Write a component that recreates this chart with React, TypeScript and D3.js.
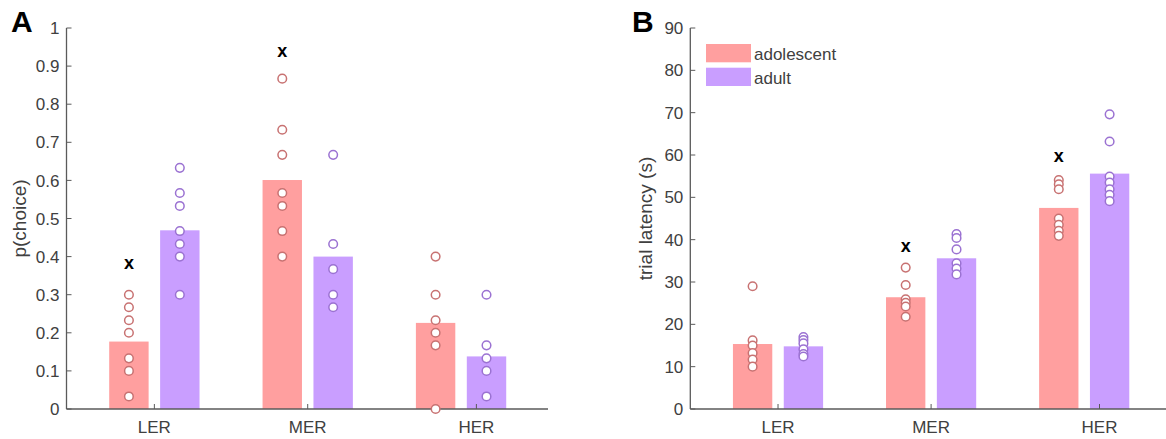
import React from "react";
import * as d3 from "d3";

const categories = ["LER", "MER", "HER"];
const groups = ["adolescent", "adult"];
const tickPositions = [1, 2, 3.1];

// Panel A: p(choice)
const choiceMeanAdol = [0.177, 0.601, 0.226];
const choiceMeanAdult = [0.469, 0.4, 0.138];
const choiceDotsAdol = [
  [0.3, 0.267, 0.233, 0.2, 0.133, 0.1, 0.033],
  [0.867, 0.733, 0.667, 0.567, 0.533, 0.467, 0.4],
  [0.4, 0.3, 0.233, 0.2, 0.167, 0.0],
];
const choiceDotsAdult = [
  [0.633, 0.567, 0.533, 0.467, 0.433, 0.4, 0.3],
  [0.667, 0.433, 0.367, 0.3, 0.267],
  [0.3, 0.167, 0.133, 0.1, 0.033],
];
const choiceMarkY = [0.383, 0.938, null];
const choiceTicks = [0, 0.1, 0.2, 0.3, 0.4, 0.5, 0.6, 0.7, 0.8, 0.9, 1];

// Panel B: trial latency (s)
const latMeanAdol = [15.35, 26.4, 47.5];
const latMeanAdult = [14.8, 35.6, 55.6];
const latDotsAdol = [
  [29.0, 16.2, 15.0, 13.2, 11.7, 10.0],
  [33.4, 29.3, 25.9, 25.1, 24.2, 21.8],
  [54.1, 53.1, 51.9, 45.0, 43.5, 42.1, 40.9],
];
const latDotsAdult = [
  [17.0, 16.3, 15.5, 14.1, 13.0, 12.4],
  [41.3, 40.4, 37.7, 34.4, 33.2, 31.8],
  [69.6, 63.2, 54.9, 53.5, 51.9, 50.6, 49.1],
];
const latMarkY = [null, 38.5, 59.6];
const latTicks = [0, 10, 20, 30, 40, 50, 60, 70, 80, 90];

const FONT = "'Liberation Sans', Arial, sans-serif";
const barFill = ["#ff9f9f", "#c99eff"];
const dotStroke = ["#c87272", "#9b72d2"];
const axisColor = "#5a5a5a";
const textColor = "#404040";

const X_DOMAIN: [number, number] = [0.427, 3.567];
const OFFSET = 0.166;
const BARW = 0.257;

function Panel(props: {
  x0: number;
  x1: number;
  yMax: number;
  ticks: number[];
  fmt: (v: number) => string;
  meanAdol: number[];
  meanAdult: number[];
  dotsAdol: number[][];
  dotsAdult: number[][];
  markY: (number | null)[];
  ylabel: string;
  ylabelX: number;
  letter: string;
  letterX: number;
  legend?: boolean;
}) {
  const x = d3.scaleLinear().domain(X_DOMAIN).range([props.x0, props.x1]);
  const y = d3.scaleLinear().domain([0, props.yMax]).range([409, 28]);
  const bw = x(1 + BARW) - x(1);
  const means = [props.meanAdol, props.meanAdult];
  const dots = [props.dotsAdol, props.dotsAdult];
  const offs = [-OFFSET, OFFSET];
  const y0 = y(0);
  return (
    <g>
      {/* bars */}
      {categories.map((c, i) =>
        groups.map((g, gi) => (
          <rect
            key={c + g}
            x={x(i + 1 + offs[gi]) - bw / 2}
            y={y(means[gi][i])}
            width={bw}
            height={y0 - y(means[gi][i])}
            fill={barFill[gi]}
          />
        ))
      )}
      {/* axes */}
      <line x1={props.x0} x2={props.x1} y1={y0} y2={y0} stroke={axisColor} strokeWidth={1.3} />
      <line x1={props.x0} x2={props.x0} y1={y0} y2={y(props.yMax)} stroke={axisColor} strokeWidth={1.3} />
      {props.ticks.map((t) => (
        <g key={t}>
          <line x1={props.x0} x2={props.x0 + 5} y1={y(t)} y2={y(t)} stroke={axisColor} strokeWidth={1} />
          <text
            x={props.x0 - 7}
            y={y(t)}
            dy="0.36em"
            textAnchor="end"
            fontSize={17}
            fontFamily={FONT}
            fill={textColor}
          >
            {props.fmt(t)}
          </text>
        </g>
      ))}
      {categories.map((c, i) => (
        <g key={c}>
          <line
            x1={x(tickPositions[i])}
            x2={x(tickPositions[i])}
            y1={y0}
            y2={y0 - 5}
            stroke={axisColor}
            strokeWidth={1}
          />
          <text
            x={x(tickPositions[i])}
            y={433}
            textAnchor="middle"
            fontSize={17}
            fontFamily={FONT}
            fill={textColor}
          >
            {c}
          </text>
        </g>
      ))}
      {/* dots */}
      {categories.map((c, i) =>
        groups.map((g, gi) =>
          dots[gi][i].map((v, k) => (
            <circle
              key={c + g + k}
              cx={x(i + 1 + offs[gi])}
              cy={y(v)}
              r={4.3}
              fill="#ffffff"
              stroke={dotStroke[gi]}
              strokeWidth={1.5}
            />
          ))
        )
      )}
      {/* significance markers */}
      {props.markY.map((v, i) =>
        v == null ? null : (
          <text
            key={"m" + i}
            x={x(i + 1 - OFFSET)}
            y={y(v)}
            dy="0.32em"
            textAnchor="middle"
            fontSize={18}
            fontWeight="bold"
            fontFamily={FONT}
            fill="#000"
          >
            x
          </text>
        )
      )}
      {/* y label */}
      <text
        transform={`translate(${props.ylabelX},${(y(0) + y(props.yMax)) / 2}) rotate(-90)`}
        textAnchor="middle"
        dy="0.35em"
        fontSize={19}
        fontFamily={FONT}
        fill={textColor}
      >
        {props.ylabel}
      </text>
      <text x={props.letterX} y={32} fontSize={30} fontWeight="bold" fontFamily={FONT} fill="#000">
        {props.letter}
      </text>
      {props.legend &&
        groups.map((g, gi) => (
          <g key={"lg" + g}>
            <rect x={706} y={44 + gi * 23.7} width={45} height={18.3} fill={barFill[gi]} />
            <text x={754} y={60 + gi * 23.7} fontSize={17} fontFamily={FONT} fill={textColor}>
              {g}
            </text>
          </g>
        ))}
    </g>
  );
}

export default function App() {
  return (
    <div style={{ position: "absolute", left: 0, top: 0 }}>
      <svg width={1166} height={439} style={{ display: "block", background: "#fff" }}>
        <Panel
          x0={66.5}
          x1={548}
          yMax={1}
          ticks={choiceTicks}
          fmt={(v) => (v === 0 ? "0" : v === 1 ? "1" : d3.format(".1f")(v))}
          meanAdol={choiceMeanAdol}
          meanAdult={choiceMeanAdult}
          dotsAdol={choiceDotsAdol}
          dotsAdult={choiceDotsAdult}
          markY={choiceMarkY}
          ylabel="p(choice)"
          ylabelX={19}
          letter="A"
          letterX={11}
        />
        <Panel
          x0={690.3}
          x1={1171}
          yMax={90}
          ticks={latTicks}
          fmt={(v) => String(v)}
          meanAdol={latMeanAdol}
          meanAdult={latMeanAdult}
          dotsAdol={latDotsAdol}
          dotsAdult={latDotsAdult}
          markY={latMarkY}
          ylabel="trial latency (s)"
          ylabelX={645}
          letter="B"
          letterX={632}
          legend
        />
      </svg>
    </div>
  );
}
